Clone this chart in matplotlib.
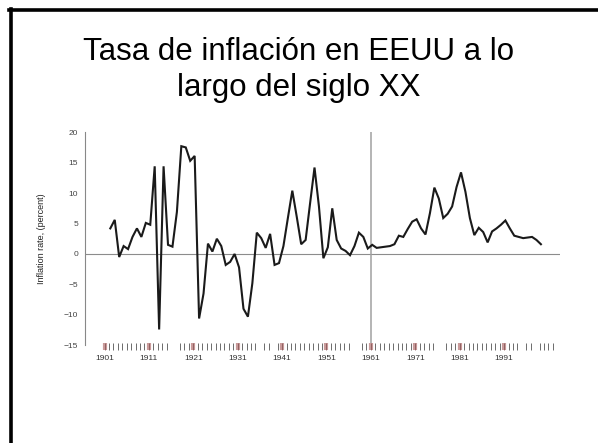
import matplotlib
matplotlib.use("Agg")
import matplotlib.pyplot as plt
from matplotlib.lines import Line2D

plt.rcParams['font.family'] = ['Liberation Sans', 'DejaVu Sans']

# inflation rate, one value per year 1901-1998
years = list(range(1901, 1999))
inflation = [4.2, 5.6, -0.5, 1.3, 0.8, 2.8, 4.2, 2.8, 5.1, 4.8,
             14.4, -12.4, 14.4, 1.5, 1.2, 6.9, 17.7, 17.5, 15.3, 16.1,
             -10.6, -6.5, 1.7, 0.4, 2.5, 1.3, -1.8, -1.3, 0.0, -2.2,
             -9.0, -10.3, -4.8, 3.5, 2.6, 1.0, 3.3, -1.8, -1.5, 1.3,
             5.9, 10.4, 6.1, 1.6, 2.3, 8.3, 14.2, 7.8, -0.7, 1.1,
             7.5, 2.3, 0.9, 0.5, -0.2, 1.3, 3.5, 2.8, 0.9, 1.5,
             1.0, 1.1, 1.2, 1.3, 1.6, 3.0, 2.8, 4.1, 5.3, 5.7,
             4.2, 3.2, 6.7, 10.9, 9.1, 5.9, 6.6, 7.8, 11.0, 13.4,
             10.2, 5.9, 3.1, 4.3, 3.6, 1.9, 3.7, 4.2, 4.8, 5.5,
             4.2, 3.0, 2.8, 2.6, 2.7, 2.8, 2.3, 1.6]

# small year marks along the bottom, decade years drawn as coloured boxes
rug_years = ([y for y in range(1902, 1911)] + [1912, 1913, 1914, 1915, 1918, 1919, 1920]
             + list(range(1922, 1931)) + [1932, 1933, 1934, 1935, 1937, 1938, 1940]
             + list(range(1942, 1951)) + [1952, 1953, 1954, 1955, 1956, 1959, 1960]
             + list(range(1962, 1971)) + [1972, 1973, 1974, 1975, 1978, 1979, 1980]
             + list(range(1982, 1991)) + [1992, 1993, 1994, 1996, 1997, 1999, 2000, 2001, 2002])
decade_years = [1901, 1911, 1921, 1931, 1941, 1951, 1961, 1971, 1981, 1991]
divider_year = 1961
rug_shift = 1.3

title = "Tasa de inflación en EEUU a lo\nlargo del siglo XX"
ylabel = "Inflation rate, (percent)"

fig = plt.figure(figsize=(5.98, 4.43), dpi=100)

# slide frame (left and top edges)
fig.add_artist(Line2D([10.5 / 598, 10.5 / 598], [0, 1 - 8.5 / 443], color="black", lw=2.6))
fig.add_artist(Line2D([9 / 598, 1], [1 - 9.5 / 443, 1 - 9.5 / 443], color="black", lw=2.6))

fig.text(0.5, 1 - 70 / 443, title, ha="center", va="center", fontsize=22.5,
         linespacing=1.25, color="black")

ax = fig.add_axes([85 / 598, 1 - 345.3 / 443, (560 - 85) / 598, (345.3 - 132.2) / 443])
ax.set_xlim(1895.3, 2002.3)
ax.set_ylim(-15, 20)

for side in ["top", "right", "bottom"]:
    ax.spines[side].set_visible(False)
ax.spines["left"].set_color("#888888")
ax.spines["left"].set_linewidth(0.8)

ax.set_yticks([-15, -10, -5, 0, 5, 10, 15, 20])
ax.set_yticklabels(["\u221215", "\u221210", "\u22125", "0", "5", "10", "15", "20"])
ax.tick_params(axis="y", length=0, pad=5, labelsize=6, labelcolor="#444444")
ax.set_yticks([-10, -5], minor=True)
ax.tick_params(axis="y", which="minor", direction="in", length=8, width=0.8, color="#888888")
ax.set_xticks([])

ax.set_ylabel(ylabel, fontsize=6.5, color="#222222", labelpad=13)

ax.axhline(0, color="#8c8c8c", lw=0.8)
ax.vlines(divider_year - rug_shift, -15.6, 20, color="#a0a0a0", lw=1.1, clip_on=False)

ax.plot(years, inflation, color="#1a1a1a", lw=1.5, solid_joinstyle="miter")

rug_x = [y - rug_shift for y in rug_years]
ax.vlines(rug_x, -15.7, -14.7, color="#555555", lw=0.6, clip_on=False)
dec_x = [y - rug_shift for y in decade_years]
ax.vlines(dec_x, -15.7, -14.7, color="#c99a9a", lw=3.0, clip_on=False)
ax.vlines(dec_x, -15.7, -14.7, color="#7a4a4a", lw=0.5, clip_on=False)

for y, x in zip(decade_years, dec_x):
    ax.text(x, -17.2, str(y), ha="center", va="center", fontsize=6, color="#333333",
            clip_on=False)

fig.savefig("out.png", dpi=100)
